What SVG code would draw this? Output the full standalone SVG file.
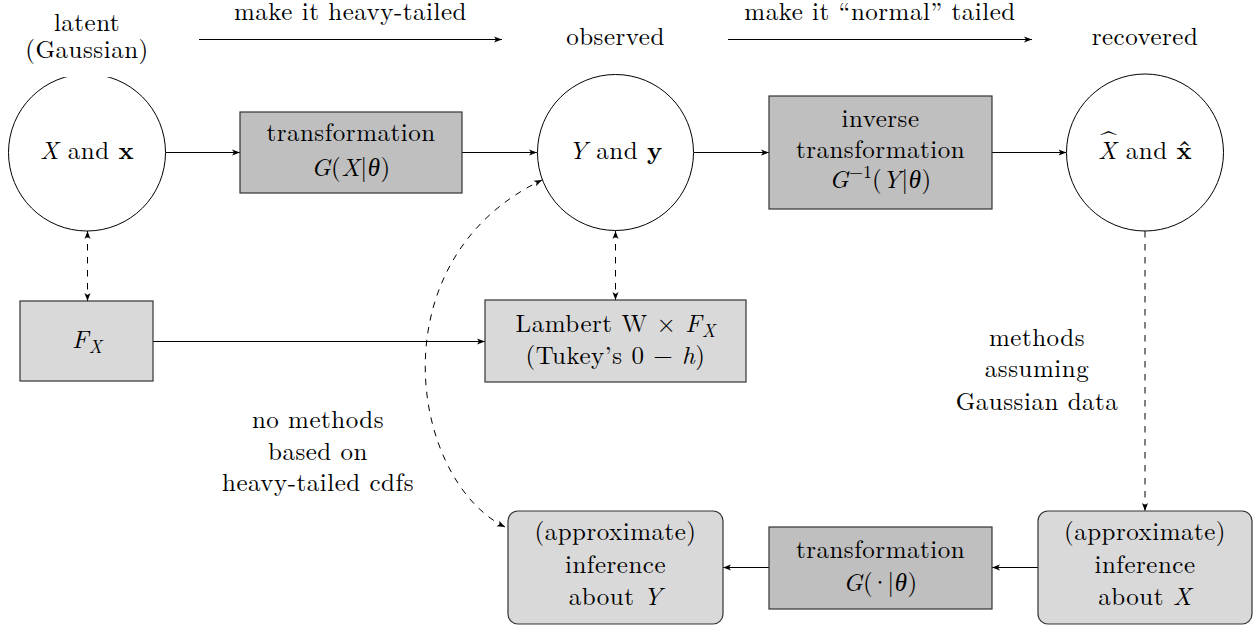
<svg xmlns="http://www.w3.org/2000/svg" width="1257" height="628" viewBox="0 0 1257 628" font-family="Latin Modern Roman">
<style>
.t{font-size:25px;letter-spacing:0.5px;fill:#000;text-anchor:middle}
.i{font-style:italic}
.b{font-weight:bold}
.sm{font-size:18px;letter-spacing:0}
.circ{fill:#fff;stroke:#000;stroke-width:1}
.dark{fill:#bfbfbf;stroke:#333;stroke-width:1.2}
.light{fill:#d9d9d9;stroke:#333;stroke-width:1.2}
.ln{fill:none;stroke:#000;stroke-width:1}
.da{stroke-dasharray:6.5 6.5}
.end{marker-end:url(#ah)}
.both{marker-start:url(#ah);marker-end:url(#ah)}
</style>
<defs>
<marker id="ah" viewBox="-9 -4 10 8" refX="0" refY="0" markerWidth="10" markerHeight="8" markerUnits="userSpaceOnUse" orient="auto-start-reverse">
<path d="M0,0 L-8,-3 L-6,0 L-8,3 z" fill="#000"/>
</marker>
</defs>

<g id="connectors">
<path class="ln end" d="M199,39.5 H502"/>
<path class="ln end" d="M728,39.5 H1032"/>
<path class="ln end" d="M165.5,152.5 H240"/>
<path class="ln end" d="M462,152.5 H537"/>
<path class="ln end" d="M694,152.5 H769"/>
<path class="ln end" d="M992,152.5 H1066.5"/>
<path class="ln da both" d="M87.5,231 V301"/>
<path class="ln da both" d="M615.5,231 V300"/>
<path class="ln end" d="M153,341.5 H485"/>
<path class="ln da end" d="M1145,231 V511"/>
<path class="ln end" d="M1038,567.5 H992"/>
<path class="ln end" d="M769,567.5 H723"/>
<path class="ln da both" d="M505,527 C410,480 375,260 542,180"/>
</g>

<g id="arrow-labels">
<text class="t" x="350.5" y="20">make it heavy-tailed</text>
<text class="t" x="880" y="20">make it “normal” tailed</text>
<text class="t" x="318" y="428">no methods</text>
<text class="t" x="318" y="460">based on</text>
<text class="t" x="318" y="491">heavy-tailed cdfs</text>
<text class="t" x="1037" y="346">methods</text>
<text class="t" x="1037" y="377">assuming</text>
<text class="t" x="1037" y="410">Gaussian data</text>
</g>

<g id="latent">
<circle class="circ" cx="87" cy="152.5" r="78.5"/>
<rect x="15" y="0" width="145" height="77" fill="#fff"/>
<text class="t" x="87" y="31">latent</text>
<text class="t" x="87" y="58">(Gaussian)</text>
<text class="t" x="87" y="159"><tspan class="i">X</tspan> and <tspan class="b">x</tspan></text>
</g>

<g id="observed">
<circle class="circ" cx="615.5" cy="152.5" r="78"/>
<text class="t" x="615.5" y="45">observed</text>
<text class="t" x="615.5" y="159"><tspan class="i">Y</tspan> and <tspan class="b">y</tspan></text>
</g>

<g id="recovered">
<circle class="circ" cx="1145" cy="152.5" r="78.5"/>
<text class="t" x="1145" y="45">recovered</text>
<text class="t" x="1145" y="159"><tspan class="i">X</tspan> and <tspan class="b">x̂</tspan></text>
<text class="t" transform="translate(1109,148) scale(2.2,1)" x="0" y="0">ˆ</text>
</g>

<g id="transform">
<rect class="dark" x="240" y="112" width="222" height="81"/>
<text class="t" x="351" y="141">transformation</text>
<text class="t" x="351" y="176"><tspan class="i">G</tspan>(<tspan class="i">X</tspan>|<tspan class="i" font-family="Liberation Serif">θ</tspan>)</text>
</g>

<g id="inverse">
<rect class="dark" x="769" y="96" width="223" height="113"/>
<text class="t" x="880.5" y="127">inverse</text>
<text class="t" x="880.5" y="158">transformation</text>
<text class="t" x="880.5" y="188"><tspan class="i">G</tspan><tspan class="sm" dy="-10">−1</tspan><tspan dy="10">(</tspan><tspan class="i">Y</tspan>|<tspan class="i" font-family="Liberation Serif">θ</tspan>)</text>
</g>

<g id="fx">
<rect class="light" x="20" y="301" width="133" height="80"/>
<text class="t" x="87" y="348"><tspan class="i">F</tspan><tspan class="sm i" dy="5">X</tspan></text>
</g>

<g id="lambert">
<rect class="light" x="485" y="300" width="261" height="82"/>
<text class="t" x="615.5" y="332">Lambert W × <tspan class="i">F</tspan><tspan class="sm i" dy="5">X</tspan></text>
<text class="t" x="615.5" y="364">(Tukey’s 0 − <tspan class="i">h</tspan>)</text>
</g>

<g id="inference-y">
<rect class="light" x="508" y="511" width="215" height="113" rx="10"/>
<text class="t" x="615.5" y="540">(approximate)</text>
<text class="t" x="615.5" y="573">inference</text>
<text class="t" x="615.5" y="605">about <tspan class="i">Y</tspan></text>
</g>

<g id="transform-back">
<rect class="dark" x="769" y="527" width="223" height="82"/>
<text class="t" x="880.5" y="558">transformation</text>
<text class="t" x="880.5" y="591"><tspan class="i">G</tspan>(<tspan dx="-3">·</tspan><tspan dx="-3">|</tspan><tspan class="i" font-family="Liberation Serif">θ</tspan>)</text>
</g>

<g id="inference-x">
<rect class="light" x="1038" y="511" width="214" height="113" rx="10"/>
<text class="t" x="1145" y="540">(approximate)</text>
<text class="t" x="1145" y="573">inference</text>
<text class="t" x="1145" y="605">about <tspan class="i">X</tspan></text>
</g>
</svg>
